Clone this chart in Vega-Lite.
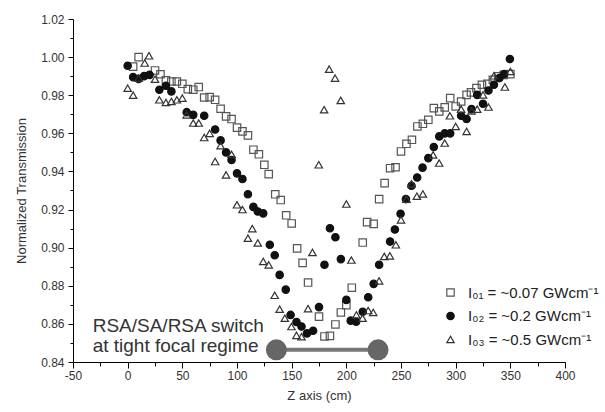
{
  "$schema": "https://vega.github.io/schema/vega-lite/v6.json",
  "width": 492,
  "height": 343,
  "autosize": {"type": "none"},
  "padding": {"left": 73, "top": 19, "right": 40, "bottom": 50},
  "background": "white",
  "config": {
    "view": {"stroke": null},
    "font": "Liberation Sans",
    "axis": {"domainColor": "#000", "tickColor": "#000", "labelColor": "#333", "titleColor": "#333", "labelFont": "Liberation Sans", "titleFont": "Liberation Sans", "labelFontSize": 12, "titleFontSize": 13, "titleFontWeight": "normal", "grid": false, "domainWidth": 1, "tickWidth": 1},
    "legend": {"labelFont": "Liberation Sans", "labelFontSize": 15, "labelColor": "#222", "symbolSize": 55, "symbolStrokeWidth": 1.2, "labelOffset": 10, "rowPadding": 7.5, "padding": 0}
  },
  "resolve": {"axis": {"x": "independent", "y": "independent"}},
  "datasets": {
    "pts": [
      {"z":5,"t":0.995,"s":"a"},{"z":10,"t":1.0,"s":"a"},{"z":25,"t":0.993,"s":"a"},{"z":30,"t":0.991,"s":"a"},{"z":35,"t":0.9878,"s":"a"},{"z":40,"t":0.9872,"s":"a"},{"z":45,"t":0.9872,"s":"a"},{"z":50,"t":0.986,"s":"a"},{"z":55,"t":0.9832,"s":"a"},{"z":60,"t":0.9829,"s":"a"},{"z":65,"t":0.9843,"s":"a"},{"z":70,"t":0.9788,"s":"a"},{"z":75,"t":0.979,"s":"a"},{"z":80,"t":0.9776,"s":"a"},{"z":85,"t":0.9729,"s":"a"},{"z":90,"t":0.9689,"s":"a"},{"z":95,"t":0.9675,"s":"a"},{"z":100,"t":0.963,"s":"a"},{"z":105,"t":0.961,"s":"a"},{"z":110,"t":0.9589,"s":"a"},{"z":115,"t":0.9514,"s":"a"},{"z":120,"t":0.949,"s":"a"},{"z":125,"t":0.9435,"s":"a"},{"z":129,"t":0.9386,"s":"a"},{"z":135,"t":0.928,"s":"a"},{"z":140,"t":0.925,"s":"a"},{"z":145,"t":0.917,"s":"a"},{"z":150,"t":0.9127,"s":"a"},{"z":155,"t":0.8996,"s":"a"},{"z":160,"t":0.892,"s":"a"},{"z":165,"t":0.8817,"s":"a"},{"z":175,"t":0.8638,"s":"a"},{"z":180,"t":0.8534,"s":"a"},{"z":185,"t":0.8537,"s":"a"},{"z":190,"t":0.8597,"s":"a"},{"z":195,"t":0.866,"s":"a"},{"z":200,"t":0.8698,"s":"a"},{"z":205,"t":0.879,"s":"a"},{"z":215,"t":0.9027,"s":"a"},{"z":219,"t":0.9134,"s":"a"},{"z":225,"t":0.9125,"s":"a"},{"z":230,"t":0.9255,"s":"a"},{"z":235,"t":0.9339,"s":"a"},{"z":240,"t":0.9417,"s":"a"},{"z":245,"t":0.9422,"s":"a"},{"z":250,"t":0.9505,"s":"a"},{"z":255,"t":0.9545,"s":"a"},{"z":260,"t":0.9566,"s":"a"},{"z":265,"t":0.9636,"s":"a"},{"z":270,"t":0.965,"s":"a"},{"z":275,"t":0.9671,"s":"a"},{"z":280,"t":0.9732,"s":"a"},{"z":285,"t":0.9715,"s":"a"},{"z":290,"t":0.9736,"s":"a"},{"z":295,"t":0.9785,"s":"a"},{"z":300,"t":0.9741,"s":"a"},{"z":305,"t":0.9767,"s":"a"},{"z":310,"t":0.9802,"s":"a"},{"z":314,"t":0.9815,"s":"a"},{"z":319,"t":0.9837,"s":"a"},{"z":324,"t":0.9855,"s":"a"},{"z":329,"t":0.986,"s":"a"},{"z":334,"t":0.9881,"s":"a"},{"z":339,"t":0.9899,"s":"a"},{"z":344,"t":0.9907,"s":"a"},{"z":350,"t":0.9911,"s":"a"},
      {"z":0,"t":0.9955,"s":"b"},{"z":5,"t":0.9895,"s":"b"},{"z":10,"t":0.9886,"s":"b"},{"z":15,"t":0.99,"s":"b"},{"z":20,"t":0.9907,"s":"b"},{"z":29,"t":0.9829,"s":"b"},{"z":35,"t":0.985,"s":"b"},{"z":40,"t":0.982,"s":"b"},{"z":54,"t":0.9711,"s":"b"},{"z":60,"t":0.9697,"s":"b"},{"z":70,"t":0.9692,"s":"b"},{"z":80,"t":0.962,"s":"b"},{"z":85,"t":0.9563,"s":"b"},{"z":90,"t":0.95,"s":"b"},{"z":95,"t":0.946,"s":"b"},{"z":100,"t":0.939,"s":"b"},{"z":105,"t":0.936,"s":"b"},{"z":110,"t":0.928,"s":"b"},{"z":115,"t":0.9214,"s":"b"},{"z":119,"t":0.919,"s":"b"},{"z":124,"t":0.918,"s":"b"},{"z":130,"t":0.9015,"s":"b"},{"z":134.5,"t":0.896,"s":"b"},{"z":139,"t":0.8857,"s":"b"},{"z":144.6,"t":0.878,"s":"b"},{"z":149,"t":0.8647,"s":"b"},{"z":154.4,"t":0.861,"s":"b"},{"z":159,"t":0.8586,"s":"b"},{"z":164,"t":0.855,"s":"b"},{"z":169.6,"t":0.8564,"s":"b"},{"z":175,"t":0.8688,"s":"b"},{"z":180,"t":0.891,"s":"b"},{"z":185,"t":0.9102,"s":"b"},{"z":190,"t":0.9055,"s":"b"},{"z":195,"t":0.894,"s":"b"},{"z":200,"t":0.8726,"s":"b"},{"z":204,"t":0.8617,"s":"b"},{"z":209,"t":0.8612,"s":"b"},{"z":215,"t":0.8664,"s":"b"},{"z":220,"t":0.874,"s":"b"},{"z":225,"t":0.881,"s":"b"},{"z":230,"t":0.891,"s":"b"},{"z":240,"t":0.9032,"s":"b"},{"z":244.4,"t":0.9095,"s":"b"},{"z":249.6,"t":0.9178,"s":"b"},{"z":254.5,"t":0.9255,"s":"b"},{"z":259.6,"t":0.9325,"s":"b"},{"z":264.8,"t":0.9368,"s":"b"},{"z":269.7,"t":0.942,"s":"b"},{"z":275,"t":0.947,"s":"b"},{"z":280,"t":0.9528,"s":"b"},{"z":285,"t":0.9584,"s":"b"},{"z":290,"t":0.96,"s":"b"},{"z":295,"t":0.96,"s":"b"},{"z":305,"t":0.9692,"s":"b"},{"z":310,"t":0.9675,"s":"b"},{"z":314.5,"t":0.9727,"s":"b"},{"z":319.7,"t":0.9802,"s":"b"},{"z":325,"t":0.9755,"s":"b"},{"z":330,"t":0.9825,"s":"b"},{"z":335,"t":0.9855,"s":"b"},{"z":340,"t":0.989,"s":"b"},{"z":344.4,"t":0.9911,"s":"b"},{"z":349.6,"t":0.999,"s":"b"},
      {"z":0,"t":0.9837,"s":"c"},{"z":5,"t":0.98,"s":"c"},{"z":10,"t":0.989,"s":"c"},{"z":15.6,"t":0.9969,"s":"c"},{"z":19.5,"t":1.0007,"s":"c"},{"z":25,"t":0.9884,"s":"c"},{"z":29,"t":0.9776,"s":"c"},{"z":35,"t":0.9762,"s":"c"},{"z":40,"t":0.9767,"s":"c"},{"z":45,"t":0.9776,"s":"c"},{"z":50,"t":0.9785,"s":"c"},{"z":54,"t":0.9697,"s":"c"},{"z":60,"t":0.9654,"s":"c"},{"z":65,"t":0.9654,"s":"c"},{"z":70,"t":0.9578,"s":"c"},{"z":75,"t":0.96,"s":"c"},{"z":80,"t":0.9452,"s":"c"},{"z":85,"t":0.9535,"s":"c"},{"z":90,"t":0.9382,"s":"c"},{"z":95,"t":0.949,"s":"c"},{"z":100,"t":0.9225,"s":"c"},{"z":105,"t":0.92,"s":"c"},{"z":110,"t":0.905,"s":"c"},{"z":114,"t":0.91,"s":"c"},{"z":119,"t":0.9025,"s":"c"},{"z":124,"t":0.8928,"s":"c"},{"z":129,"t":0.891,"s":"c"},{"z":134.5,"t":0.875,"s":"c"},{"z":139,"t":0.8677,"s":"c"},{"z":143.7,"t":0.863,"s":"c"},{"z":149.8,"t":0.8586,"s":"c"},{"z":154.4,"t":0.854,"s":"c"},{"z":159,"t":0.8533,"s":"c"},{"z":165,"t":0.868,"s":"c"},{"z":169,"t":0.8975,"s":"c"},{"z":174.8,"t":0.9435,"s":"c"},{"z":179.7,"t":0.9724,"s":"c"},{"z":184.3,"t":0.9937,"s":"c"},{"z":189.7,"t":0.989,"s":"c"},{"z":194.9,"t":0.9773,"s":"c"},{"z":200,"t":0.9229,"s":"c"},{"z":204.6,"t":0.8935,"s":"c"},{"z":209.2,"t":0.8647,"s":"c"},{"z":214.8,"t":0.863,"s":"c"},{"z":220,"t":0.867,"s":"c"},{"z":224.6,"t":0.866,"s":"c"},{"z":230,"t":0.8826,"s":"c"},{"z":234.7,"t":0.8954,"s":"c"},{"z":239.8,"t":0.8957,"s":"c"},{"z":245.3,"t":0.9015,"s":"c"},{"z":250,"t":0.9146,"s":"c"},{"z":255,"t":0.9255,"s":"c"},{"z":259.6,"t":0.9335,"s":"c"},{"z":264.5,"t":0.927,"s":"c"},{"z":270,"t":0.9282,"s":"c"},{"z":279.4,"t":0.9487,"s":"c"},{"z":284.9,"t":0.9444,"s":"c"},{"z":290,"t":0.9549,"s":"c"},{"z":294.7,"t":0.9692,"s":"c"},{"z":300,"t":0.9636,"s":"c"},{"z":305,"t":0.9727,"s":"c"},{"z":310,"t":0.961,"s":"c"},{"z":314.5,"t":0.9718,"s":"c"},{"z":319.7,"t":0.9727,"s":"c"},{"z":325,"t":0.9802,"s":"c"},{"z":330,"t":0.9738,"s":"c"},{"z":335,"t":0.9902,"s":"c"},{"z":345,"t":0.9843,"s":"c"},{"z":350,"t":0.9925,"s":"c"}
    ]
  },
  "layer": [
    {
      "data": {"name": "pts"},
      "mark": {"type": "point", "filled": true, "opacity": 1, "strokeWidth": 1.2, "size": 55},
      "encoding": {
        "x": {
          "field": "z", "type": "quantitative", "title": "Z axis (cm)",
          "scale": {"domain": [-50, 400], "nice": false, "zero": false},
          "axis": {
            "orient": "bottom",
            "values": [-50, 0, 50, 100, 150, 200, 250, 300, 350, 400],
            "labelExpr": "'' + datum.value",
            "tickSize": 6,
            "labelPadding": 2, "titlePadding": 8, "labelFlush": false, "labelOverlap": false
          }
        },
        "y": {
          "field": "t", "type": "quantitative", "title": "Normalized Transmission",
          "scale": {"domain": [0.84, 1.02], "nice": false, "zero": false},
          "axis": {
            "orient": "left",
            "values": [0.84, 0.86, 0.88, 0.9, 0.92, 0.94, 0.96, 0.98, 1.0, 1.02],
            "format": ".2f",
            "tickSize": 5,
            "labelPadding": 4, "titlePadding": 12, "labelFlush": false, "labelOverlap": false
          }
        },
        "shape": {"field": "s", "type": "nominal", "scale": {"domain": ["a", "b", "c"], "range": ["square", "circle", "triangle-up"]},
          "legend": {"title": null, "orient": "none", "legendX": 370, "legendY": 266, "labelExpr": "datum.label == 'a' ? 'I₀₁ = ~0.07 GWcm⁻¹' : datum.label == 'b' ? 'I₀₂ = ~0.2 GWcm⁻¹' : 'I₀₃ = ~0.5 GWcm⁻¹'"}},
        "fill": {"field": "s", "type": "nominal", "scale": {"domain": ["a", "b", "c"], "range": ["transparent", "#111111", "transparent"]},
          "legend": {"title": null, "orient": "none", "legendX": 370, "legendY": 266, "labelExpr": "datum.label == 'a' ? 'I₀₁ = ~0.07 GWcm⁻¹' : datum.label == 'b' ? 'I₀₂ = ~0.2 GWcm⁻¹' : 'I₀₃ = ~0.5 GWcm⁻¹'"}},
        "stroke": {"field": "s", "type": "nominal", "scale": {"domain": ["a", "b", "c"], "range": ["#555555", "#111111", "#333333"]},
          "legend": {"title": null, "orient": "none", "legendX": 370, "legendY": 266, "labelExpr": "datum.label == 'a' ? 'I₀₁ = ~0.07 GWcm⁻¹' : datum.label == 'b' ? 'I₀₂ = ~0.2 GWcm⁻¹' : 'I₀₃ = ~0.5 GWcm⁻¹'"}}
      }
    },
    {
      "data": {"values": [{}]},
      "mark": {"type": "rule", "color": "#777777", "strokeWidth": 4},
      "encoding": {
        "x": {"datum": 136, "type": "quantitative", "axis": {"orient": "bottom", "values": [-25, 25, 75, 125, 175, 225, 275, 325, 375], "labels": false, "domain": false, "tickSize": 4, "title": null}},
        "x2": {"datum": 229},
        "y": {"datum": 0.8464, "type": "quantitative", "axis": {"orient": "left", "values": [0.85, 0.87, 0.89, 0.91, 0.93, 0.95, 0.97, 0.99, 1.01], "labels": false, "domain": false, "tickSize": 3, "title": null}}
      }
    },
    {
      "data": {"values": [{"z": 136}, {"z": 229}]},
      "mark": {"type": "circle", "color": "#666666", "size": 440, "opacity": 1},
      "encoding": {
        "x": {"field": "z", "type": "quantitative", "axis": null},
        "y": {"datum": 0.8464, "type": "quantitative", "axis": null}
      }
    },
    {
      "data": {"values": [{}]},
      "mark": {"type": "text", "text": ["RSA/SA/RSA switch", "at tight focal regime"], "align": "left", "baseline": "middle", "fontSize": 19, "lineHeight": 20, "color": "#333333", "font": "Liberation Sans"},
      "encoding": {
        "x": {"datum": -32, "type": "quantitative", "axis": null},
        "y": {"datum": 0.859, "type": "quantitative", "axis": null}
      }
    }
  ]
}
